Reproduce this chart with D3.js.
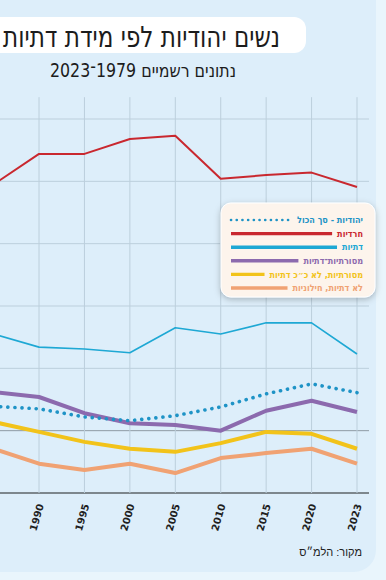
<!DOCTYPE html>
<html lang="he">
<head>
<meta charset="utf-8">
<script src="https://cdn.jsdelivr.net/npm/d3@7/dist/d3.min.js"></script>
<style>
  html, body { margin: 0; padding: 0; background: #e9f5fc; }
  svg { display: block; }
</style>
</head>
<body>
<div id="chart"></div>
<script>
// data (values on a 1..7 scale)
var years = ["1985", "1990", "1995", "2000", "2005", "2010", "2015", "2020", "2023"];
var total    = [2.39, 2.35, 2.22, 2.16, 2.24, 2.38, 2.59, 2.75, 2.61];
var haredi   = [5.95, 6.44, 6.44, 6.68, 6.73, 6.04, 6.10, 6.14, 5.91];
var dati     = [3.55, 3.34, 3.31, 3.25, 3.65, 3.55, 3.73, 3.73, 3.23];
var masDati  = [2.62, 2.54, 2.28, 2.12, 2.09, 2.00, 2.32, 2.48, 2.30];
var masLo    = [2.14, 1.98, 1.82, 1.71, 1.66, 1.80, 1.98, 1.95, 1.71];
var hiloni   = [1.71, 1.47, 1.37, 1.47, 1.32, 1.56, 1.64, 1.71, 1.47];
var yTicks = [1, 2, 3, 4, 5, 6, 7];
var tickYears = ["1990", "1995", "2000", "2005", "2010", "2015", "2020", "2023"];

var legendNames = ["יהודיות - סך הכול", "חרדיות", "דתיות", "מסורתיות־דתיות", "מסורתיות, לא כ״כ דתיות", "לא דתיות, חילוניות"];

var series = [
  {name: legendNames[1], values: haredi,  color: "#c9282f", width: 2,   dash: null},
  {name: legendNames[2], values: dati,    color: "#1ea8d4", width: 1.6, dash: null},
  {name: legendNames[3], values: masDati, color: "#8c6aae", width: 4,   dash: null},
  {name: legendNames[4], values: masLo,   color: "#f2c31a", width: 4,   dash: null},
  {name: legendNames[5], values: hiloni,  color: "#f0a273", width: 4,   dash: null},
  {name: legendNames[0], values: total,   color: "#1e93c6", width: 3.6, dash: "0.1 7"}
];
var legendOrder = [series[5], series[0], series[1], series[2], series[3], series[4]];

var w = 386, h = 580;
var condensed = "'Liberation Sans Narrow', 'DejaVu Sans Condensed', 'Noto Sans', sans-serif";

var svg = d3.select("#chart").append("svg")
  .attr("width", w)
  .attr("height", h);

var defs = svg.append("defs");
var sh = defs.append("filter").attr("id", "shadow")
  .attr("x", "-20%").attr("y", "-20%").attr("width", "140%").attr("height", "150%");
sh.append("feDropShadow")
  .attr("dx", 0).attr("dy", 2).attr("stdDeviation", 3)
  .attr("flood-color", "#000").attr("flood-opacity", 0.25);

// panel
svg.append("rect")
  .attr("x", -30).attr("y", -30)
  .attr("width", 406).attr("height", 602)
  .attr("rx", 22)
  .attr("fill", "#ddeefa");

var x = d3.scalePoint().domain(years).range([-6.4, 357]);
var y = d3.scaleLinear().domain([1, 7]).range([493, 119]);

// gridlines
var grid = svg.append("g");
grid.selectAll("line.h")
  .data(yTicks)
  .enter()
  .append("line")
    .attr("class", "h")
    .attr("x1", 0)
    .attr("x2", 369)
    .attr("y1", function(d){ return y(d); })
    .attr("y2", function(d){ return y(d); })
    .attr("stroke", function(d){
      if(d == 1){ return "#5d6469"; }
      if(d == 2){ return "#8f9ba4"; }
      return "#bccfdc";
    })
    .attr("stroke-width", function(d){ return d == 1 ? 1.6 : 1; });

grid.selectAll("line.v")
  .data(tickYears)
  .enter()
  .append("line")
    .attr("class", "v")
    .attr("x1", function(d){ return x(d); })
    .attr("x2", function(d){ return x(d); })
    .attr("y1", y(7.35))
    .attr("y2", y(1))
    .attr("stroke", "#bccfdc")
    .attr("stroke-width", 1);

// x axis labels
var xAxis = d3.axisBottom(x).tickValues(tickYears).tickSize(0).tickPadding(0);
var gx = svg.append("g")
  .attr("transform", "translate(0," + y(1) + ")")
  .call(xAxis);
gx.select(".domain").remove();
gx.selectAll("text")
  .attr("font-family", "'DejaVu Sans', sans-serif")
  .attr("font-weight", "bold")
  .attr("font-size", 10)
  .attr("fill", "#1f1f1f")
  .attr("text-anchor", "end")
  .attr("dy", "0.35em")
  .attr("transform", "translate(1,11) rotate(-74)");

// lines
var line = d3.line()
  .x(function(d, i){ return x(years[i]); })
  .y(function(d){ return y(d); });

svg.selectAll("path.series")
  .data(series)
  .enter()
  .append("path")
    .attr("class", "series")
    .attr("d", function(d){ return line(d.values); })
    .attr("fill", "none")
    .attr("stroke", function(d){ return d.color; })
    .attr("stroke-width", function(d){ return d.width; })
    .attr("stroke-linejoin", "round")
    .attr("stroke-linecap", function(d){ return d.dash ? "round" : "butt"; })
    .attr("stroke-dasharray", function(d){ return d.dash; });

// title
svg.append("rect")
  .attr("x", -20).attr("y", 17)
  .attr("width", 326).attr("height", 36)
  .attr("rx", 12)
  .attr("fill", "#ffffff");
svg.append("text")
  .attr("x", 280).attr("y", 47)
  .attr("direction", "rtl")
  .attr("text-anchor", "start")
  .attr("font-family", condensed)
  .attr("font-size", 29)
  .attr("fill", "#1c1c1c")
  .attr("textLength", 277)
  .attr("lengthAdjust", "spacingAndGlyphs")
  .text("נשים יהודיות לפי מידת דתיות");
svg.append("text")
  .attr("x", 236).attr("y", 77)
  .attr("direction", "rtl")
  .attr("text-anchor", "start")
  .attr("font-family", condensed)
  .attr("font-size", 19)
  .attr("fill", "#1c1c1c")
  .attr("textLength", 186)
  .attr("lengthAdjust", "spacingAndGlyphs")
  .text("נתונים רשמיים 1979־2023");

// legend
var lg = svg.append("g");
lg.append("rect")
  .attr("x", 221).attr("y", 203)
  .attr("width", 154).attr("height", 94)
  .attr("rx", 10)
  .attr("fill", "#fdf4ec")
  .attr("stroke", "#ffffff")
  .attr("stroke-width", 1)
  .attr("filter", "url(#shadow)");

var items = lg.selectAll("g.item")
  .data(legendOrder)
  .enter()
  .append("g")
    .attr("class", "item")
    .attr("transform", function(d, i){ return "translate(0," + (220 + i * 13.6) + ")"; });

items.append("text")
  .attr("x", 363).attr("y", 3.2)
  .attr("direction", "rtl")
  .attr("text-anchor", "start")
  .attr("font-family", condensed)
  .attr("font-weight", "bold")
  .attr("font-size", 9)
  .attr("fill", function(d){ return d.color; })
  .text(function(d){ return d.name; });

items.each(function(d){
  var g = d3.select(this);
  var bb = g.select("text").node().getBBox();
  g.insert("line", "text")
    .attr("x1", 231)
    .attr("x2", Math.max(bb.x - 5, 250))
    .attr("y1", 0).attr("y2", 0)
    .attr("stroke", d.color)
    .attr("stroke-width", d.dash ? 2.6 : 3.4)
    .attr("stroke-linecap", d.dash ? "round" : "butt")
    .attr("stroke-dasharray", d.dash ? "0.1 5.6" : null);
});

// source
svg.append("text")
  .attr("x", 362).attr("y", 556)
  .attr("direction", "rtl")
  .attr("text-anchor", "start")
  .attr("font-family", "'Liberation Sans', 'DejaVu Sans', sans-serif")
  .attr("font-size", 11)
  .attr("fill", "#222")
  .text("מקור: הלמ״ס");
</script>
</body>
</html>
